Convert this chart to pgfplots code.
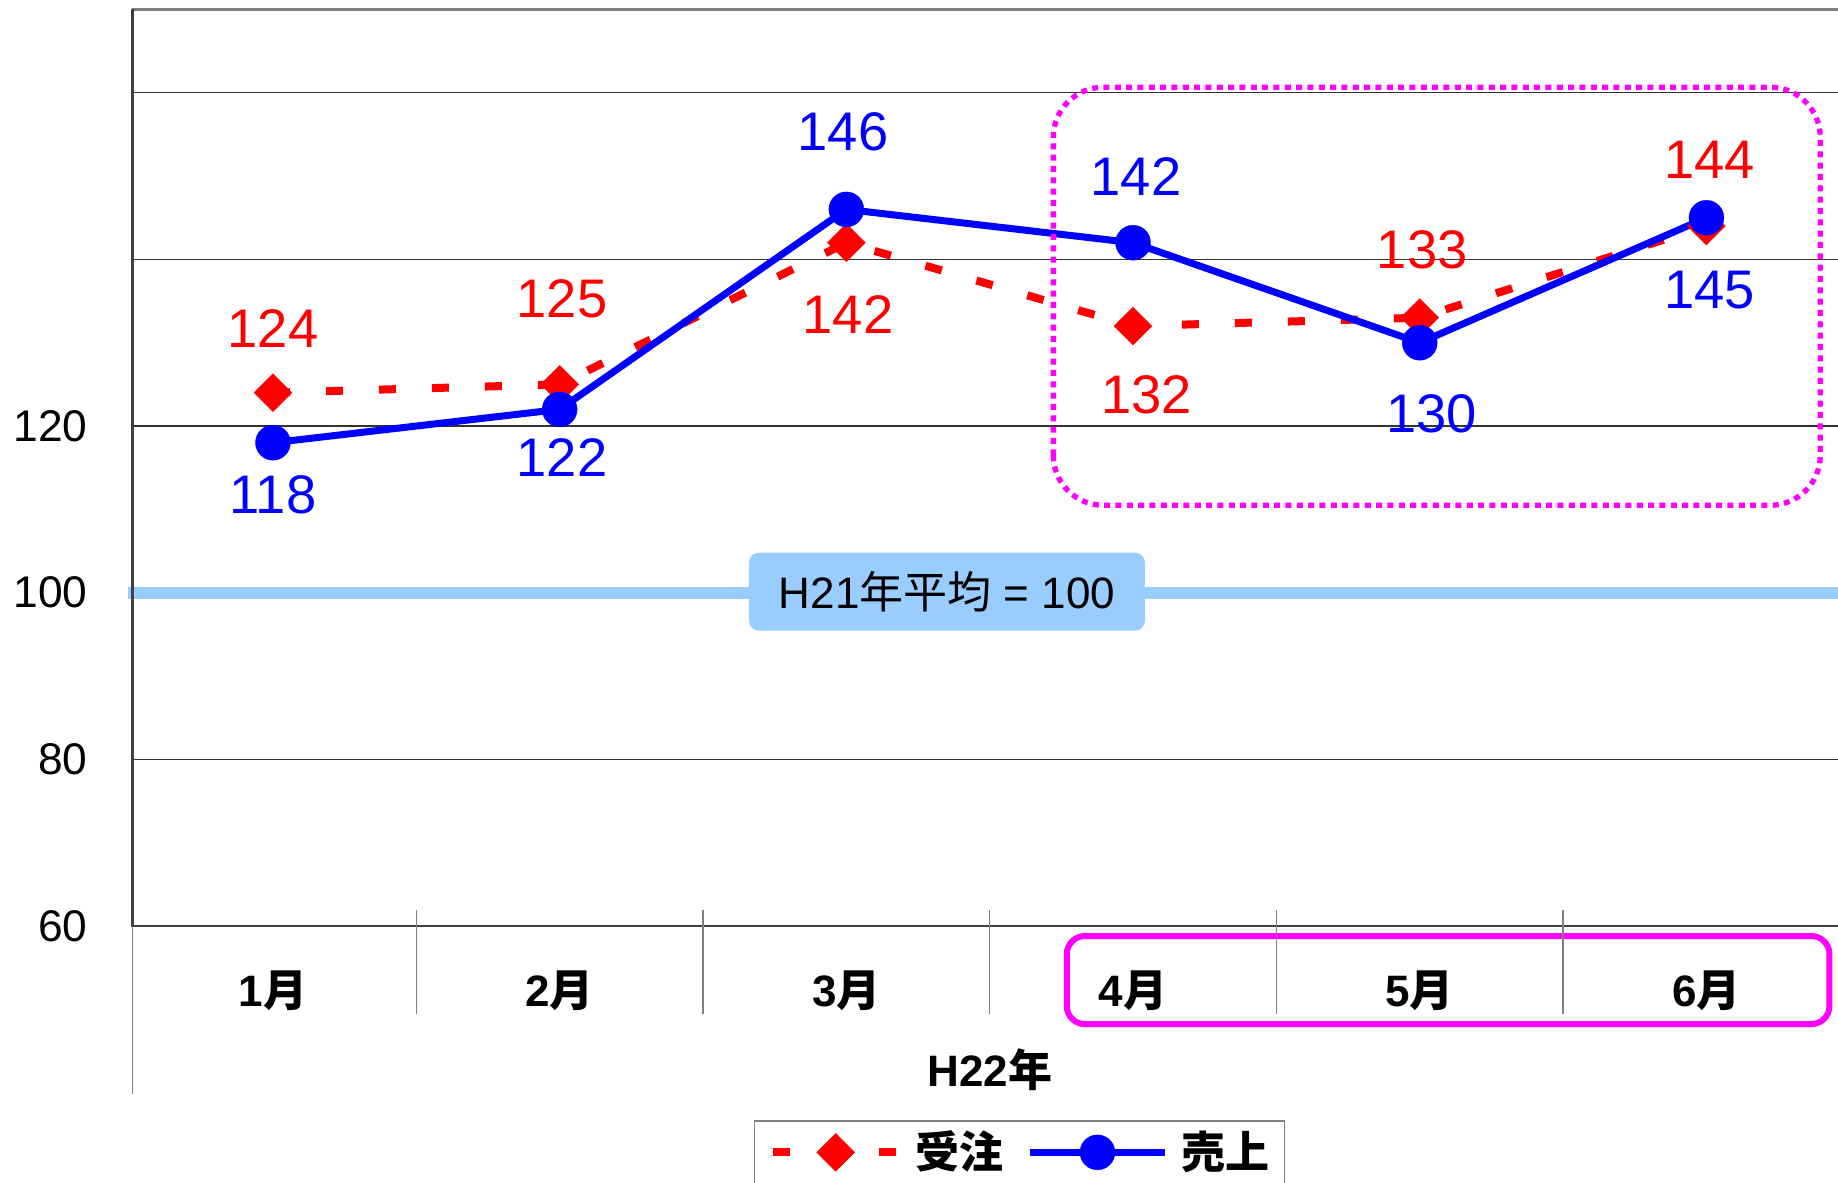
\documentclass[border=0pt]{standalone}
\usepackage{fontspec}
\setmainfont{Liberation Sans}
\newfontfamily\jp{Noto Sans CJK JP}
\usepackage{pgfplots}
\pgfplotsset{compat=1.18}
\definecolor{mred}{HTML}{FF0000}
\definecolor{mblue}{HTML}{0000FF}
\definecolor{lblue}{HTML}{99CCFF}
\definecolor{mmag}{HTML}{FF00FF}
\definecolor{gridc}{HTML}{333333}
\definecolor{axc}{HTML}{404040}
\definecolor{topc}{HTML}{808080}
\begin{document}
\begin{tikzpicture}
\useasboundingbox (-39.75pt,-76.8pt) rectangle (511.65pt,277.8pt);
\begin{axis}[
  at={(0pt,0pt)}, anchor=south west,
  scale only axis, width=511.65pt, height=274.98pt,
  xmin=-0.49, xmax=5.459, ymin=60, ymax=170,
  clip=false,
  axis line style={draw=none},
  major tick length=0pt,
  xtick={0,1,2,3,4,5},
  xticklabels={{1{\jp 月}},{2{\jp 月}},{3{\jp 月}},{4{\jp 月}},{5{\jp 月}},{6{\jp 月}}},
  xticklabel style={anchor=base, yshift=-24pt, font=\bfseries\fontsize{13.2}{13.2}\selectfont},
  ytick={60,80,100,120,140,160},
  yticklabels={60,80,100,120,{},{}},
  yticklabel style={anchor=east, inner sep=0pt, xshift=-13.35pt, font=\fontsize{13.3}{13.3}\selectfont},
  /pgf/number format/assume math mode=true,
  ymajorgrids, grid style={gridc, line width=0.45pt},
  legend columns=2,
  legend style={at={(0.3642,-0.2117)}, anchor=north west, draw=topc, line width=0.5pt, fill=white,
    inner xsep=4.4pt, inner ysep=3pt, font=\bfseries\fontsize{13.2}{13.2}\selectfont\jp,
    nodes={inner sep=0pt},
    /tikz/every odd column/.append style={column sep=4pt},
    /tikz/every even column/.append style={column sep=6.9pt}},
]
% reference line at 100
\draw[lblue, line width=3.5pt] (axis cs:-0.506,100) -- (axis cs:5.459,100);
\node[fill=lblue, rounded corners=3pt, minimum width=118.8pt, minimum height=23.4pt, inner sep=0pt,
  font=\fontsize{13.2}{13.2}\selectfont] at (axis cs:2.351,100.12) {H21{\jp 年平均} = 100};

\addplot[mred, line width=2.4pt, dash pattern=on 5.1pt off 10.8pt,
  mark=square*, mark size=4.03pt, mark options={solid, rotate=45, line width=0.1pt, fill=mred},
  legend image code/.code={\draw[mark repeat=2,mark phase=2] plot coordinates {(0pt,0pt) (18.75pt,0pt) (37.5pt,0pt)};}]
  coordinates {(0,124) (1,125) (2,142) (3,132) (4,133) (5,144)};
\addlegendentry{受注}
\addplot[mblue, line width=2.1pt,
  mark=*, mark size=5.25pt, mark options={solid, line width=0.1pt, fill=mblue},
  legend image code/.code={\draw[mark repeat=2,mark phase=2] plot coordinates {(0pt,0pt) (20.25pt,0pt) (40.5pt,0pt)};}]
  coordinates {(0,118) (1,122) (2,146) (3,142) (4,130) (5,145)};
\addlegendentry{売上}

% data labels
\begin{scope}[every node/.style={font=\fontsize{16.3}{16.3}\selectfont, inner sep=0pt}]
\node[text=mred] at (axis cs:0,131.7) {124};
\node[text=mred] at (axis cs:1.008,135.3) {125};
\node[text=mred] at (axis cs:2.006,133.4) {142};
\node[text=mred] at (axis cs:3.048,123.8) {132};
\node[text=mred] at (axis cs:4.009,141.1) {133};
\node[text=mred] at (axis cs:5.012,152.0) {144};
\node[text=mblue] at (axis cs:0,111.7) {118};
\node[text=mblue] at (axis cs:1.008,116.2) {122};
\node[text=mblue] at (axis cs:1.988,155.3) {146};
\node[text=mblue] at (axis cs:3.01,149.9) {142};
\node[text=mblue] at (axis cs:4.041,121.5) {130};
\node[text=mblue] at (axis cs:5.012,136.3) {145};
\end{scope}

% highlight boxes
\draw[mmag, line width=1.6pt, dash pattern=on 1.8pt off 1.6pt, rounded corners=15pt]
  (axis cs:2.722,110.49) rectangle (axis cs:5.397,160.66);
\draw[mmag, line width=1.8pt, rounded corners=5.4pt]
  (axis cs:2.769,48.23) rectangle (axis cs:5.429,58.8);

% axis frame
\draw[topc, line width=0.7pt] (rel axis cs:0,1) -- (rel axis cs:1,1);
\draw[axc, line width=0.8pt] (rel axis cs:0,1) -- (rel axis cs:0,0) -- (rel axis cs:1,0);
\draw[topc, line width=0.45pt] (axis cs:-0.49,60) -- (axis cs:-0.49,39.8);
\draw[topc, line width=0.45pt] (axis cs:0.5,61.9) -- (axis cs:0.5,49.43);
\draw[topc, line width=0.45pt] (axis cs:1.5,61.9) -- (axis cs:1.5,49.43);
\draw[topc, line width=0.45pt] (axis cs:2.5,61.9) -- (axis cs:2.5,49.43);
\draw[topc, line width=0.45pt] (axis cs:3.5,61.9) -- (axis cs:3.5,49.43);
\draw[topc, line width=0.45pt] (axis cs:4.5,61.9) -- (axis cs:4.5,49.43);

\node[anchor=base, yshift=-48pt, font=\bfseries\fontsize{13.2}{13.2}\selectfont] at (axis cs:2.5,60) {H22{\jp 年}};
\end{axis}
\end{tikzpicture}
\end{document}
